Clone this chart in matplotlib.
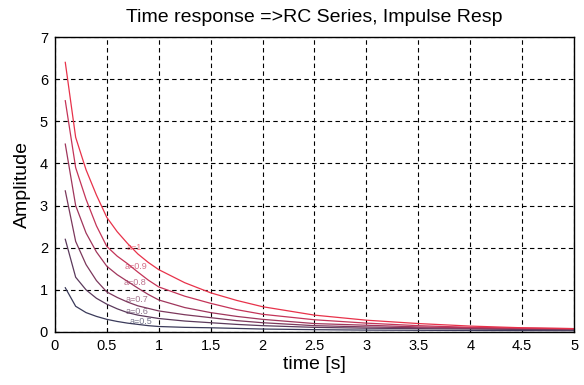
import matplotlib
matplotlib.use("Agg")
import matplotlib.pyplot as plt

plt.rcParams["font.family"] = ["Liberation Sans", "DejaVu Sans"]

# --- data ---
t = [0.1, 0.2, 0.3, 0.4, 0.5, 0.6, 0.7, 0.8, 0.9, 1.0,
     1.25, 1.5, 1.75, 2.0, 2.5, 3.0, 3.5, 4.0, 4.5, 5.0]
labels = ["a=0.5", "a=0.6", "a=0.7", "a=0.8", "a=0.9", "a=1"]

resp_05 = [1.05, 0.61, 0.46, 0.37, 0.30, 0.25, 0.21, 0.18, 0.15, 0.13,
           0.11, 0.10, 0.085, 0.07, 0.055, 0.045, 0.04, 0.035, 0.032, 0.03]
resp_06 = [2.20, 1.30, 1.00, 0.80, 0.66, 0.55, 0.46, 0.40, 0.36, 0.32,
           0.26, 0.22, 0.18, 0.15, 0.11, 0.09, 0.08, 0.07, 0.06, 0.055]
resp_07 = [3.35, 2.15, 1.60, 1.22, 0.95, 0.82, 0.71, 0.62, 0.56, 0.50,
           0.41, 0.34, 0.27, 0.22, 0.15, 0.12, 0.10, 0.085, 0.075, 0.065]
resp_08 = [4.46, 3.00, 2.35, 1.90, 1.56, 1.36, 1.20, 1.04, 0.89, 0.76,
           0.58, 0.46, 0.37, 0.30, 0.20, 0.16, 0.12, 0.10, 0.085, 0.075]
resp_09 = [5.49, 3.90, 3.15, 2.52, 2.03, 1.80, 1.62, 1.42, 1.23, 1.07,
           0.85, 0.68, 0.53, 0.42, 0.29, 0.21, 0.15, 0.11, 0.09, 0.08]
resp_10 = [6.40, 4.62, 3.85, 3.25, 2.72, 2.38, 2.10, 1.85, 1.65, 1.48,
           1.17, 0.93, 0.75, 0.60, 0.40, 0.28, 0.20, 0.14, 0.10, 0.08]
responses = [resp_05, resp_06, resp_07, resp_08, resp_09, resp_10]

# label anchor points (time, amplitude)
label_x = [0.72, 0.685, 0.685, 0.665, 0.675, 0.69]
label_y = [0.24, 0.48, 0.77, 1.17, 1.56, 2.0]

colors = ["#3a3a5a", "#5b3a5c", "#7c385c", "#a0365c", "#c43458", "#e8324a"]

fig = plt.figure(figsize=(5.84, 3.85), dpi=100)
ax = fig.add_axes([0.094, 0.1377, 0.889, 0.766])

for y, c, lab, lx, ly in zip(responses, colors, labels, label_x, label_y):
    ax.plot(t, y, color=c, linewidth=0.9)
    ax.text(lx, ly, lab, color=c, alpha=0.7, fontsize=6.5, va="center", ha="left")

ax.set_xlim(0, 5)
ax.set_ylim(0, 7)
ax.set_xticks([0, 0.5, 1, 1.5, 2, 2.5, 3, 3.5, 4, 4.5, 5])
ax.set_xticklabels(["0", "0.5", "1", "1.5", "2", "2.5", "3", "3.5", "4", "4.5", "5"])
ax.set_yticks(range(8))
ax.grid(True, color="black", linestyle=(0, (4, 3)), linewidth=0.8)
ax.tick_params(direction="in", length=3, labelsize=10.5, pad=5)
for s in ax.spines.values():
    s.set_linewidth(1.0)

ax.set_title("Time response =>RC Series, Impulse Resp", fontsize=14, pad=11)
ax.set_xlabel("time [s]", fontsize=14, labelpad=2)
ax.set_ylabel("Amplitude", fontsize=14, labelpad=6)

fig.savefig("out.png", dpi=100)
